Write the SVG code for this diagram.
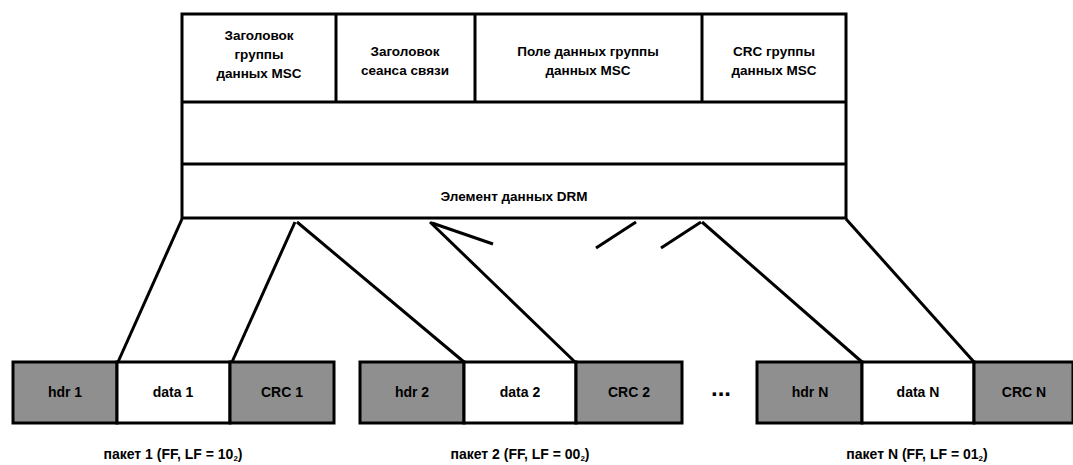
<svg xmlns="http://www.w3.org/2000/svg" width="1073" height="465" viewBox="0 0 1073 465">
<style>
.t{font-family:"Liberation Sans",Arial,sans-serif;font-weight:bold;font-size:13.5px;fill:#000;text-anchor:middle}
.l{font-size:14px}
.b{fill:#fff;stroke:#000;stroke-width:3}
.g{fill:#8f8f8f;stroke:#000;stroke-width:3}
.c{stroke:#000;stroke-width:3;fill:none;stroke-linecap:butt}
</style>
<rect width="1073" height="465" fill="#fff"/>
<g id="drm-element">
<rect class="b" x="182" y="14" width="664" height="204"/>
<line class="c" x1="182" y1="102" x2="846" y2="102"/>
<line class="c" x1="182" y1="164" x2="846" y2="164"/>
<line class="c" x1="336" y1="14" x2="336" y2="102"/>
<line class="c" x1="475" y1="14" x2="475" y2="102"/>
<line class="c" x1="702" y1="14" x2="702" y2="102"/>
<text class="t" x="259" y="40">Заголовок</text>
<text class="t" x="259" y="59">группы</text>
<text class="t" x="259" y="78">данных MSC</text>
<text class="t" x="405" y="56">Заголовок</text>
<text class="t" x="405" y="75">сеанса связи</text>
<text class="t" x="588" y="56">Поле данных группы</text>
<text class="t" x="588" y="75">данных MSC</text>
<text class="t" x="774" y="56">CRC группы</text>
<text class="t" x="774" y="75">данных MSC</text>
<text class="t" x="514" y="201">Элемент данных DRM</text>
</g>
<g id="connectors">
<line class="c" x1="182" y1="219" x2="118" y2="362"/>
<line class="c" x1="295" y1="222" x2="232" y2="362"/>
<line class="c" x1="297" y1="222" x2="464" y2="362"/>
<line class="c" x1="430" y1="222" x2="575" y2="362"/>
<line class="c" x1="432" y1="223" x2="493" y2="244"/>
<line class="c" x1="596" y1="248" x2="636" y2="222"/>
<line class="c" x1="661" y1="248" x2="701" y2="222"/>
<line class="c" x1="702" y1="222" x2="862" y2="362"/>
<line class="c" x1="846" y1="219" x2="974" y2="362"/>
</g>
<g id="packet1">
<rect class="g" x="13" y="362" width="104" height="61"/>
<rect class="b" x="117" y="362" width="113" height="61"/>
<rect class="g" x="230" y="362" width="104" height="61"/>
<text class="t l" x="65" y="397">hdr 1</text>
<text class="t l" x="173" y="397">data 1</text>
<text class="t l" x="282" y="397">CRC 1</text>
<text class="t l" x="173" y="459">пакет 1 (FF, LF = 10<tspan font-size="8" dy="2">2</tspan><tspan dy="-2">)</tspan></text>
</g>
<g id="packet2">
<rect class="g" x="360" y="362" width="104" height="61"/>
<rect class="b" x="464" y="362" width="112" height="61"/>
<rect class="g" x="576" y="362" width="106" height="61"/>
<text class="t l" x="412" y="397">hdr 2</text>
<text class="t l" x="520" y="397">data 2</text>
<text class="t l" x="629" y="397">CRC 2</text>
<text class="t l" x="520" y="459">пакет 2 (FF, LF = 00<tspan font-size="8" dy="2">2</tspan><tspan dy="-2">)</tspan></text>
</g>
<g id="ellipsis">
<text class="t" x="721" y="396" style="font-size:24px">...</text>
</g>
<g id="packetN">
<rect class="g" x="757" y="362" width="105" height="61"/>
<rect class="b" x="862" y="362" width="112" height="61"/>
<rect class="g" x="974" y="362" width="99" height="61"/>
<text class="t l" x="810" y="397">hdr N</text>
<text class="t l" x="918" y="397">data N</text>
<text class="t l" x="1024" y="397">CRC N</text>
<text class="t l" x="917" y="459">пакет N (FF, LF = 01<tspan font-size="8" dy="2">2</tspan><tspan dy="-2">)</tspan></text>
</g>
</svg>
